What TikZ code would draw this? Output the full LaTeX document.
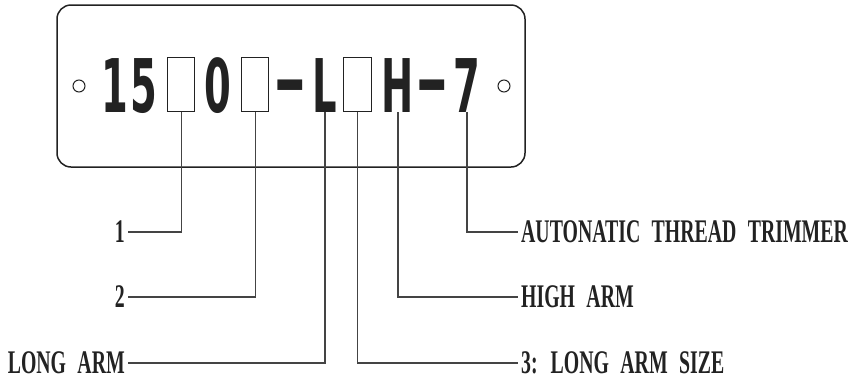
\documentclass[tikz,border=0pt]{standalone}
\usepackage{fontspec}
\newfontfamily\platefont[FakeStretch=0.52]{DejaVu Sans}
\newfontfamily\labfont[FakeStretch=0.6,WordSpace=2.3]{Liberation Serif}
\definecolor{ink}{HTML}{222222}
\definecolor{wire}{HTML}{444444}
\tikzset{
  plate/.style={draw=ink, line width=1.5pt, rounded corners=14pt},
  hole/.style={draw=ink, line width=1pt},
  pchar/.style={anchor=base, inner sep=0pt, text=ink, font=\platefont\bfseries\fontsize{74}{74}\selectfont},
  pdash/.style={pchar, xscale=2.1, transform shape},
  slot/.style={draw=ink, line width=1.2pt, inner sep=0pt},
  lbl/.style={inner sep=3pt, text=ink, font=\labfont\bfseries\fontsize{33}{33}\selectfont},
  lead/.style={draw=wire, line width=1.1pt},
}
\begin{document}
\begin{tikzpicture}[x=1pt,y=-1pt]
\useasboundingbox (0,0) rectangle (863,381);
\draw[plate] (57,5) rectangle (525,167);
\draw[hole] (79,86) circle (6);
\draw[hole] (504,86) circle (6);
% plate characters
\node[pchar] (c1) at (115,112) {1};
\node[pchar] (c5) at (144,112) {5};
\node[slot, minimum width=27pt, minimum height=54pt, anchor=south west] (b1) at (167,112) {};
\node[pchar] (c0) at (218,112) {0};
\node[slot, minimum width=27pt, minimum height=54pt, anchor=south west] (b2) at (241,112) {};
\node[pdash] (d1) at (290,106) {-};
\node[pchar] (cL) at (325,112) {L};
\node[slot, minimum width=28pt, minimum height=54pt, anchor=south west] (b3) at (343,112) {};
\node[pchar] (cH) at (398,112) {H};
\node[pdash] (d2) at (432,106) {-};
\node[pchar] (c7) at (467,112) {7};
% labels
\node[lbl, anchor=east] (l1) at (128,232) {1};
\node[lbl, anchor=east] (l2) at (128,297) {2};
\node[lbl, anchor=east] (l3) at (128,363) {LONG ARM};
\node[lbl, anchor=west] (r1) at (518,232) {AUTONATIC THREAD TRIMMER};
\node[lbl, anchor=west] (r2) at (518,297) {HIGH ARM};
\node[lbl, anchor=west] (r3) at (518,363) {3: LONG ARM SIZE};
% leaders
\draw[lead] (b1.south) |- (l1.east);
\draw[lead] (b2.south) |- (l2.east);
\draw[lead] (cL.south) |- (l3.east);
\draw[lead] (b3.south) |- (r3.west);
\draw[lead] (cH.south) |- (r2.west);
\draw[lead] (c7.south) |- (r1.west);
\end{tikzpicture}
\end{document}
